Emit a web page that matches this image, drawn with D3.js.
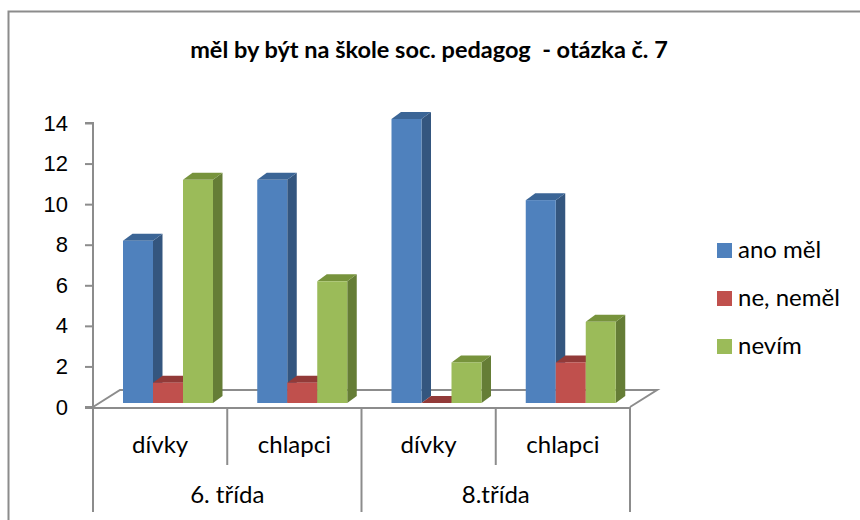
<!DOCTYPE html>
<html>
<head>
<meta charset="utf-8">
<script src="https://cdn.jsdelivr.net/npm/d3@7.9.0/dist/d3.min.js"></script>
<style>
  body { margin: 0; background: #fff; }
  svg { display: block; font-family: Lato, "Open Sans", sans-serif; }
</style>
</head>
<body>
<svg id="chart" width="860" height="520"></svg>
<script>
const groups = ["6. třída", "8.třída"];
const subcats = ["dívky", "chlapci"];
const seriesNames = ["ano měl", "ne, neměl", "nevím"];
const anoMel = [8, 11, 14, 10];
const neNemel = [1, 1, 0, 2];
const nevim = [11, 6, 2, 4];
const yTicks = [0, 2, 4, 6, 8, 10, 12, 14];

const series = [anoMel, neNemel, nevim];
const colors = [
  { front: "#4f81bd", top: "#3b6596", side: "#34567f" },
  { front: "#c0504d", top: "#923a38", side: "#8a3735" },
  { front: "#9bbb59", top: "#77933c", side: "#657d36" }
];

const svg = d3.select("#chart");

// chart border
svg.append("path")
  .attr("d", "M8.5,520 V11.5 H860")
  .attr("fill", "none").attr("stroke", "#8c8c8c").attr("stroke-width", 2);

svg.append("text")
  .attr("x", 429).attr("y", 58)
  .attr("text-anchor", "middle")
  .style("font-size", "23.5px").style("font-weight", "bold")
  .style("white-space", "pre")
  .text("měl by být na škole soc. pedagog  - otázka č. 7");

const left = 93, right = 630, base = 407;
const cols = [];
groups.forEach(g => subcats.forEach(s => cols.push(g + "|" + s)));

const x = d3.scaleBand().domain(cols).range([left, right]);
const xs = d3.scaleBand().domain(seriesNames).range([30, 120]);
const y = d3.scaleLinear().domain([0, 14]).range([base, 123]);

const floorDx = 27, floorDy = 17;
const grey = "#8c8c8c";

// floor
svg.append("path")
  .attr("d", `M${left},${base} L${left + floorDx},${base - floorDy} L${right + floorDx},${base - floorDy} L${right},${base}`)
  .attr("fill", "none").attr("stroke", grey).attr("stroke-width", 2);

// y axis
const yAxis = svg.append("g").attr("transform", `translate(${left},0)`)
  .call(d3.axisLeft(y).tickValues(yTicks).tickSize(8).tickPadding(17));
yAxis.select(".domain").attr("stroke", grey).attr("stroke-width", 2)
  .attr("d", `M-8,${y(14)}H0V${base}H-8`);
yAxis.selectAll(".tick line").attr("stroke", grey).attr("stroke-width", 2);
yAxis.selectAll(".tick text").style("font-size", "22px").attr("fill", "#000");

// category axis (front floor edge + separators)
svg.append("line")
  .attr("x1", left - 8).attr("x2", right).attr("y1", base + 1).attr("y2", base + 1)
  .attr("stroke", grey).attr("stroke-width", 2);

cols.forEach((c, i) => {
  const x0 = x(c);
  svg.append("line")
    .attr("x1", x0).attr("x2", x0)
    .attr("y1", base).attr("y2", i % 2 === 0 ? 512 : 465)
    .attr("stroke", grey).attr("stroke-width", 2);
  svg.append("text")
    .attr("x", x0 + x.bandwidth() / 2).attr("y", 453)
    .attr("text-anchor", "middle").style("font-size", "24px")
    .text(c.split("|")[1]);
});
svg.append("line")
  .attr("x1", right).attr("x2", right).attr("y1", base).attr("y2", 512)
  .attr("stroke", grey).attr("stroke-width", 2);

groups.forEach(g => {
  svg.append("text")
    .attr("x", x(g + "|" + subcats[0]) + x.bandwidth())
    .attr("y", 503)
    .attr("text-anchor", "middle").style("font-size", "24px")
    .text(g);
});

// 3D bars
const barBase = base - 4;
const dx = 9.5, dy = 7;
const lift = y(0) - barBase;
cols.forEach((c, ci) => {
  series.forEach((s, si) => {
    const v = s[ci];
    const x0 = x(c) + xs(seriesNames[si]);
    const w = xs.bandwidth();
    const top = y(v) - lift;
    const col = colors[si];
    const g = svg.append("g");
    if (v > 0) {
      g.append("path")
        .attr("d", `M${x0 + w},${barBase} L${x0 + w + dx},${barBase - dy} L${x0 + w + dx},${top - dy} L${x0 + w},${top} Z`)
        .attr("fill", col.side);
    }
    g.append("path")
      .attr("d", `M${x0},${top} L${x0 + dx},${top - dy} L${x0 + w + dx},${top - dy} L${x0 + w},${top} Z`)
      .attr("fill", col.top);
    if (v > 0) {
      g.append("rect")
        .attr("x", x0).attr("y", top)
        .attr("width", w).attr("height", barBase - top)
        .attr("fill", col.front);
    }
  });
});

// legend
const legend = svg.append("g");
seriesNames.forEach((n, i) => {
  const ly = 243 + i * 48;
  legend.append("rect")
    .attr("x", 717).attr("y", ly).attr("width", 15).attr("height", 15)
    .attr("fill", colors[i].front);
  legend.append("text")
    .attr("x", 738).attr("y", ly + 15)
    .style("font-size", "24px")
    .text(n);
});
</script>
</body>
</html>
